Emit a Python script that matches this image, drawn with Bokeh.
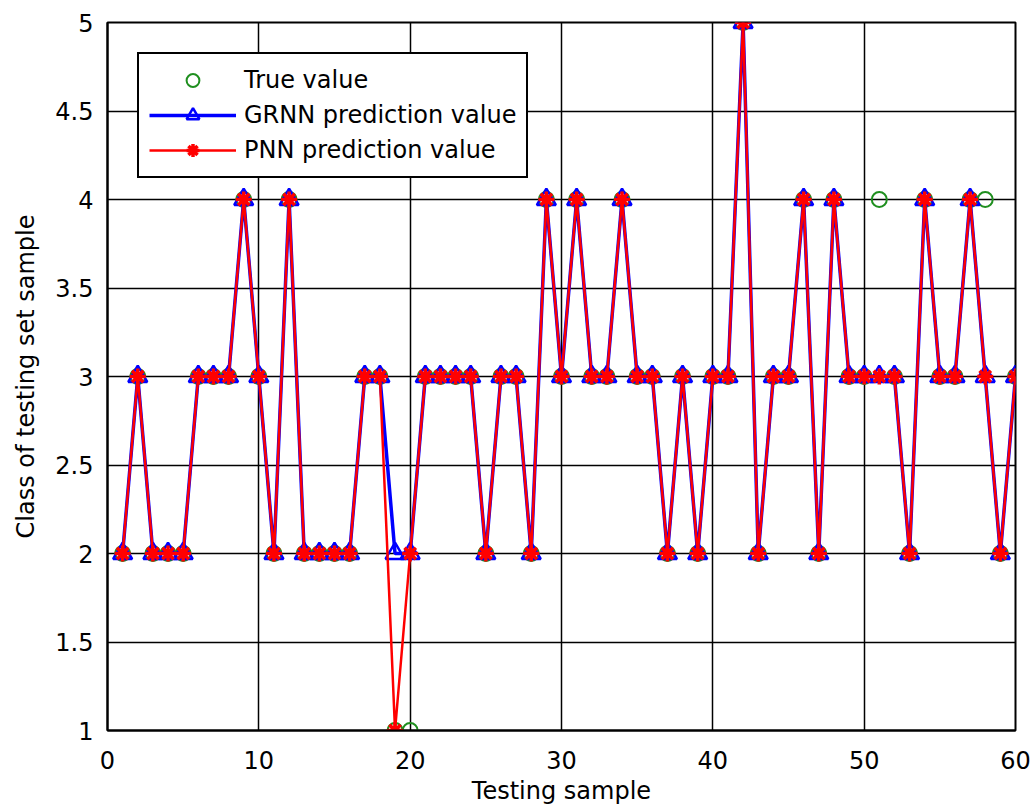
from bokeh.plotting import figure
from bokeh.models import Range1d, FixedTicker, Legend, LegendItem
from bokeh.embed import file_html
from bokeh.resources import INLINE

samples = list(range(1, 61))
true_value = [2, 3, 2, 2, 2, 3, 3, 3, 4, 3,
              2, 4, 2, 2, 2, 2, 3, 3, 1, 1,
              3, 3, 3, 3, 2, 3, 3, 2, 4, 3,
              4, 3, 3, 4, 3, 3, 2, 3, 2, 3,
              3, 5, 2, 3, 3, 4, 2, 4, 3, 3,
              4, 3, 2, 4, 3, 3, 4, 4, 2, 3]
grnn_pred = [2, 3, 2, 2, 2, 3, 3, 3, 4, 3,
             2, 4, 2, 2, 2, 2, 3, 3, 2, 2,
             3, 3, 3, 3, 2, 3, 3, 2, 4, 3,
             4, 3, 3, 4, 3, 3, 2, 3, 2, 3,
             3, 5, 2, 3, 3, 4, 2, 4, 3, 3,
             3, 3, 2, 4, 3, 3, 4, 3, 2, 3]
pnn_pred = [2, 3, 2, 2, 2, 3, 3, 3, 4, 3,
            2, 4, 2, 2, 2, 2, 3, 3, 1, 2,
            3, 3, 3, 3, 2, 3, 3, 2, 4, 3,
            4, 3, 3, 4, 3, 3, 2, 3, 2, 3,
            3, 5, 2, 3, 3, 4, 2, 4, 3, 3,
            3, 3, 2, 4, 3, 3, 4, 3, 2, 3]
x_ticks = [0, 10, 20, 30, 40, 50, 60]
y_ticks = [1, 1.5, 2, 2.5, 3, 3.5, 4, 4.5, 5]

FONT = "DejaVu Sans"
FSIZE = "24px"

p = figure(width=1033, height=807, x_range=Range1d(0, 60), y_range=Range1d(1, 5),
           output_backend="svg", toolbar_location=None,
           min_border_left=107, min_border_right=18, min_border_top=22, min_border_bottom=77)

p.background_fill_color = "white"
p.border_fill_color = "white"
p.outline_line_color = "black"
p.outline_line_width = 2

for ax in (p.xaxis[0], p.yaxis[0]):
    ax.axis_line_color = "black"
    ax.axis_line_width = 2
    ax.major_tick_in = 6
    ax.major_tick_out = 0
    ax.major_tick_line_color = "black"
    ax.minor_tick_line_color = None
    ax.major_label_text_font = FONT
    ax.major_label_text_font_size = FSIZE
    ax.major_label_text_color = "black"
    ax.axis_label_text_font = FONT
    ax.axis_label_text_font_size = FSIZE
    ax.axis_label_text_font_style = "normal"
    ax.axis_label_text_color = "black"

p.xaxis.ticker = FixedTicker(ticks=x_ticks)
p.yaxis.ticker = FixedTicker(ticks=y_ticks)
p.xaxis.axis_label = "Testing sample"
p.yaxis.axis_label = "Class of testing set sample"
p.xaxis.major_label_standoff = 20
p.xaxis.axis_label_standoff = 5
p.yaxis.major_label_standoff = 14
p.yaxis.axis_label_standoff = 12

p.grid.grid_line_color = "black"
p.grid.grid_line_width = 1.5
p.grid.grid_line_alpha = 1.0

r_true = p.scatter(samples, true_value, marker="circle", size=15, fill_color=None,
                   line_color="#1f8f1f", line_width=2)
r_grnn_line = p.line(samples, grnn_pred, line_color="blue", line_width=3.5)
r_grnn_mk = p.scatter(samples, grnn_pred, marker="triangle", size=19, fill_color=None,
                      line_color="blue", line_width=2.5)
r_pnn_line = p.line(samples, pnn_pred, line_color="red", line_width=2.5)
r_pnn_mk = p.scatter(samples, pnn_pred, marker="asterisk", size=16,
                     line_color="red", line_width=3.5)

legend = Legend(items=[
    LegendItem(label="True value", renderers=[r_true]),
    LegendItem(label="GRNN prediction value", renderers=[r_grnn_line, r_grnn_mk]),
    LegendItem(label="PNN prediction value", renderers=[r_pnn_line, r_pnn_mk]),
], location="top_left")
legend.margin = 30
legend.padding = 10
legend.spacing = 3
legend.glyph_width = 87
legend.glyph_height = 32
legend.label_height = 32
legend.label_standoff = 8
legend.label_text_font = FONT
legend.label_text_font_size = FSIZE
legend.label_text_color = "black"
legend.border_line_color = "black"
legend.border_line_alpha = 1.0
legend.border_line_width = 2
legend.background_fill_color = "white"
legend.background_fill_alpha = 1.0
p.add_layout(legend, "center")

open("out.html", "w").write(file_html(p, INLINE))
